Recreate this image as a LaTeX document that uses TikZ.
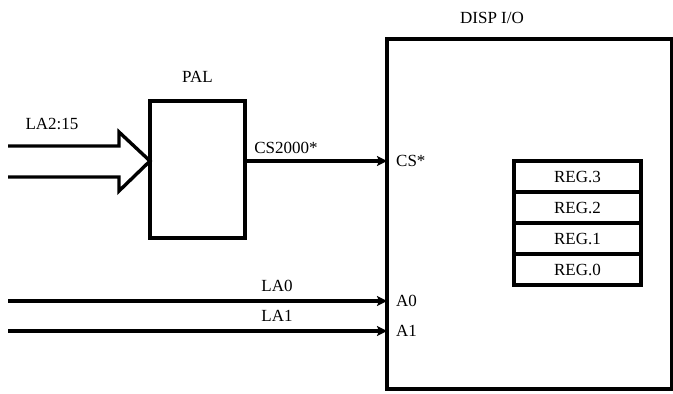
\documentclass[tikz,border=0pt]{standalone}
\usepackage{fontspec}
\setmainfont{Liberation Serif}
\usetikzlibrary{arrows.meta,positioning,calc}
\tikzset{
  blockbox/.style={draw=black,line width=3.3pt,outer sep=0pt,inner sep=0pt},
  regbox/.style={draw=black,line width=3.3pt,outer sep=0pt,minimum width=127pt,
    minimum height=31pt,font=\fontsize{17}{20}\selectfont},
  lbl/.style={inner sep=0pt,font=\fontsize{17}{20}\selectfont},
  wire/.style={line width=3.4pt,line join=miter},
  sig/.style={wire,-{Stealth[length=10pt,width=10pt,inset=2pt]}}
}

\begin{document}
\begin{tikzpicture}[
  x=1pt,
  y=-1pt,
  node distance=0pt
]
\useasboundingbox (0,0) rectangle (673,394);

\node[blockbox,minimum width=285pt,minimum height=350pt,anchor=north west] (disp) at (387,39) {};
\node[lbl] (displbl) at (492,18) {DISP I/O};

\node[regbox,anchor=north west] (reg3) at (514,161) {REG.3};
\node[regbox,below=of reg3] (reg2) {REG.2};
\node[regbox,below=of reg2] (reg1) {REG.1};
\node[regbox,below=of reg1] (reg0) {REG.0};

\node[blockbox,minimum width=95pt,minimum height=137pt,anchor=north west] (pal) at (150,101) {};
\node[lbl,above=18pt of pal] (pallbl) {PAL};

\coordinate (cs) at ($(disp.north west)+(0,122)$);
\coordinate (a0) at ($(disp.north west)+(0,262)$);
\coordinate (a1) at ($(disp.north west)+(0,292)$);
\coordinate (bustip) at (pal.west |- cs);
\coordinate (la0in) at (8,301);
\coordinate (la1in) at (8,331);

\draw[wire] ($(bustip)+(-142,-15)$) -- ++(111,0) -- ++(0,-14) -- (bustip)
  -- ++(-31,30) -- ++(0,-14) -- ++(-111,0);
\draw[sig] (pal.east |- cs) -- (cs);
\draw[sig] (la0in) -- (a0);
\draw[sig] (la1in) -- (a1);

\node[lbl] (buslbl) at (52,124) {LA2:15};
\node[lbl] (cs2000lbl) at (286,148) {CS2000*};
\node[lbl] (la0lbl) at (277,286) {LA0};
\node[lbl] (la1lbl) at (277,316) {LA1};
\node[lbl,anchor=west,right=9pt of cs] (cslbl) {CS*};
\node[lbl,anchor=west,right=9pt of a0] (a0lbl) {A0};
\node[lbl,anchor=west,right=9pt of a1] (a1lbl) {A1};
\end{tikzpicture}
\end{document}
